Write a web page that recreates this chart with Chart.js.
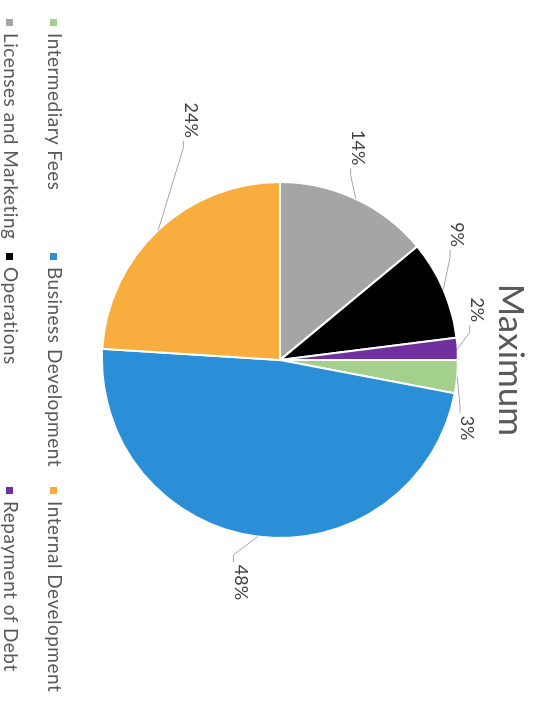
<!DOCTYPE html>
<html>
<head>
<meta charset="utf-8">
<script src="https://cdn.jsdelivr.net/npm/chart.js@4"></script>
<style>
  html, body { margin: 0; padding: 0; background: #fff; overflow: hidden; }
  /* the reference is turned a quarter turn clockwise, so the whole chart is drawn flat and rotated */
  #stage {
    position: absolute; left: 0; top: 0;
    width: 711px; height: 539px;
    transform-origin: 0 0;
    transform: translate(539px, 0) rotate(90deg);
    background: #fff;
  }
  #pie { position: absolute; left: 0; top: 0; }
  .legend-item {
    position: absolute;
    font: 19px Lato, sans-serif;
    letter-spacing: 0.5px;
    color: #595959;
    white-space: nowrap;
    line-height: 20px;
  }
  .legend-item span {
    display: inline-block; width: 7px; height: 7px;
    margin-right: 7px; vertical-align: 2px;
  }
</style>
</head>
<body>
<div id="stage">
  <canvas id="pie" width="711" height="539"></canvas>
  <div id="legend"></div>
</div>
<script>
// --- Data ---
const categories = ['Intermediary Fees', 'Business Development', 'Internal Development',
                    'Licenses and Marketing', 'Operations', 'Repayment of Debt'];
const shares = [3, 48, 24, 14, 9, 2];
const sliceColors = ['#A3D08C', '#2B8FD8', '#FAAD3F', '#A5A5A5', '#000000', '#7030A0'];

// label placement, relative to each slice's mid angle (deg) and outer edge (px)
const labelAngleShift = [14.6, 2.9, 22.7, -5.1, -11.9, -10.7];
const labelGap = [21, 48, 78, 48, 39, 25];

// --- Legend (Excel style grid: 3 columns, 2 rows) ---
const legend = document.getElementById('legend');
categories.forEach((name, i) => {
  const item = document.createElement('div');
  item.className = 'legend-item';
  item.style.left = (19 + (i % 3) * 234) + 'px';
  item.style.top = (474 + Math.floor(i / 3) * 44) + 'px';
  item.innerHTML = '<span style="background:' + sliceColors[i] + '"></span>' + name;
  legend.appendChild(item);
});

// --- Percentage labels with leader lines ---
const leaderLabels = {
  id: 'leaderLabels',
  afterDatasetsDraw(chart) {
    const ctx = chart.ctx;
    const meta = chart.getDatasetMeta(0);
    ctx.save();
    ctx.font = '18px Lato, sans-serif';
    ctx.textBaseline = 'middle';
    ctx.textAlign = 'center';
    meta.data.forEach((arc, i) => {
      const p = arc.getProps(['x', 'y', 'startAngle', 'endAngle', 'outerRadius'], true);
      const mid = (p.startAngle + p.endAngle) / 2;
      const ex = p.x + Math.cos(mid) * p.outerRadius;
      const ey = p.y + Math.sin(mid) * p.outerRadius;
      const a = mid + labelAngleShift[i] * Math.PI / 180;
      const r = p.outerRadius + labelGap[i];
      const lx = p.x + Math.cos(a) * r;
      const ly = p.y + Math.sin(a) * r;
      const text = shares[i] + '%';
      const half = ctx.measureText(text).width / 2;
      const ay = ly + 7;
      const side = lx > ex ? -1 : 1;
      const stubEnd = lx + side * (half + 3);
      const elbow = lx + side * (half + 10);

      ctx.strokeStyle = '#A6A6A6';
      ctx.lineWidth = 1;
      ctx.beginPath();
      ctx.moveTo(ex, ey);
      ctx.lineTo(elbow, ay);
      ctx.lineTo(stubEnd, ay);
      ctx.stroke();

      ctx.fillStyle = '#404040';
      ctx.fillText(text, lx, ly);
    });
    ctx.restore();
  }
};

new Chart(document.getElementById('pie'), {
  type: 'pie',
  data: {
    labels: categories,
    datasets: [{
      data: shares,
      backgroundColor: sliceColors,
      borderColor: '#ffffff',
      borderWidth: 2
    }]
  },
  options: {
    responsive: false,
    animation: false,
    radius: 178,
    layout: { padding: { top: 0, bottom: 71, left: 9, right: 0 } },
    plugins: {
      legend: { display: false },
      tooltip: { enabled: false },
      title: {
        display: true,
        text: 'Maximum',
        color: '#595959',
        font: { family: 'Lato', size: 35, weight: 'normal', lineHeight: 1.2 },
        padding: { top: 8, bottom: 0 }
      }
    }
  },
  plugins: [leaderLabels]
});
</script>
</body>
</html>
